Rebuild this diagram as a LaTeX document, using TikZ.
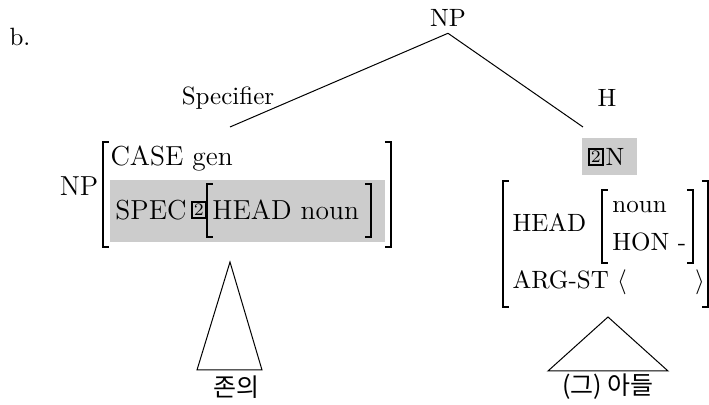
\documentclass[tikz,border=0pt]{standalone}
\usepackage{fontspec}
\newfontfamily\kor{Noto Sans CJK KR}
\usetikzlibrary{positioning}

% square brackets of an attribute-value matrix: x, top y, bottom y
\newcommand\avmopen[3]{\draw[brk] (#1+6,#2) -- (#1,#2) -- (#1,#3) -- (#1+6,#3);}
\newcommand\avmclose[3]{\draw[brk] (#1-6,#2) -- (#1,#2) -- (#1,#3) -- (#1-6,#3);}

\begin{document}
\begin{tikzpicture}[
    x=0.4pt, y=-0.4pt,
    % Styles
    lbl/.style={inner sep=0pt},
    feat/.style={inner sep=0pt, anchor=west},
    bigfeat/.style={feat, font=\fontsize{11}{13}\selectfont},
    brk/.style={line width=0.5pt},
    shade/.style={fill=black!20, draw=none},
    tag/.style={draw, line width=0.8pt, inner sep=0.8pt, font=\scriptsize},
    leaf/.style={inner sep=0pt, font=\kor},
]
\useasboundingbox (0,0) rectangle (709,405);

% === TREE ===
\node[lbl] (ex) at (20,37) {b.};
\node[inner sep=2.5pt] (top) at (448,18) {NP};
\coordinate (spec) at (230,127);
\coordinate (head) at (583,127);
\draw (top.south) -- (spec);
\draw (top.south) -- (head);
\node[lbl] (speclbl) at (228,98) {Specifier};
\node[lbl] (headlbl) at (607,98) {H};

% === SPECIFIER (Left) ===
\fill[shade] (110,180) rectangle (385,242);
\node[lbl, font=\fontsize{11}{13}\selectfont] (npl) at (79,186) {NP};
\avmopen{103}{142}{247}
\avmclose{391}{142}{247}
\node[bigfeat] (case) at (110,159) {CASE gen};
\node[bigfeat] (specf) at (115,210) {SPEC};
\node[tag, right=1.5pt of specf] (tagl) {2};
\avmopen{207}{184}{237}
\node[bigfeat] (headl) at (212,210) {HEAD noun};
\avmclose{371}{184}{237}

% leaf
\coordinate (tril) at (230,262);
\coordinate (trilw) at (197,370);
\coordinate (trile) at (262,370);
\draw (tril) -- (trilw) -- (trile) -- cycle;
\node[leaf] (leafl) at (237,387) {존의};

% === HEAD (Right) ===
\fill[shade] (582,138) rectangle (637,175);
\node[tag, anchor=west] (tagr) at (588,157) {2};
\node[feat, right=0.5pt of tagr] (nr) {N};
\avmopen{503}{181}{307}
\avmclose{708}{181}{307}
\node[feat] (headr) at (512,223) {HEAD};
\avmopen{602}{190}{263}
\node[feat] (noun) at (612,207) {noun};
\node[feat] (hon) at (612,242) {HON -};
\avmclose{693}{190}{263}
\node[feat] (argst) at (512,282) {ARG-ST $\langle$};
\node[lbl] (argend) at (700,282) {$\rangle$};

% leaf
\coordinate (trir) at (608,317);
\coordinate (trirw) at (548,371);
\coordinate (trire) at (668,371);
\draw (trir) -- (trirw) -- (trire) -- cycle;
\node[leaf] (leafr) at (608,387) {(그) 아들};

\end{tikzpicture}
\end{document}
